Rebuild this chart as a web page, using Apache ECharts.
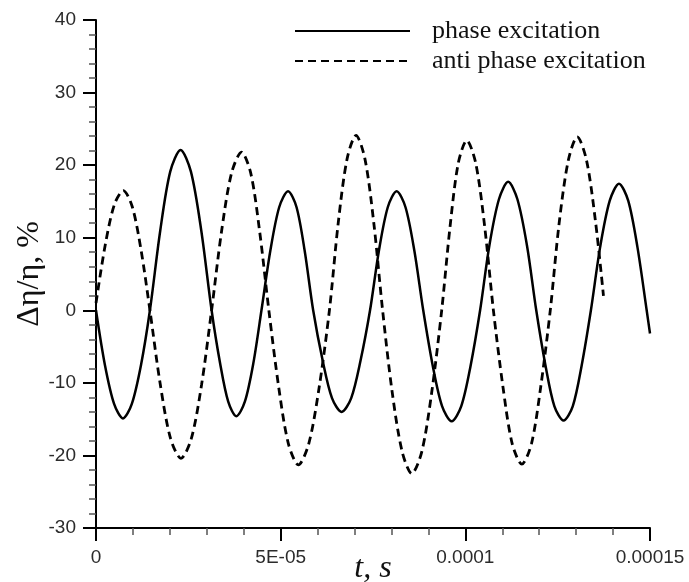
<!DOCTYPE html>
<html>
<head>
<meta charset="utf-8">
<script src="https://cdn.jsdelivr.net/npm/echarts@6/dist/echarts.min.js"></script>
<style>
	html, body { margin: 0; padding: 0; background: #fff; }
	#chart { width: 689px; height: 582px; }
</style>
</head>
<body>
<div id="chart"></div>
<script>
	/* time in units of 1E-05 s */
	var phaseT = [0, 0.24, 0.49, 0.73, 0.97, 1.22, 1.46,
		1.74, 2.01, 2.29, 2.57, 2.85, 3.13,
		3.36, 3.58, 3.80, 4.03, 4.26, 4.48,
		4.72, 4.96, 5.20, 5.43, 5.65, 5.88,
		6.14, 6.39, 6.65, 6.91, 7.16, 7.42,
		7.66, 7.90, 8.14, 8.38, 8.62, 8.86,
		9.12, 9.37, 9.63, 9.89, 10.14, 10.40,
		10.65, 10.91, 11.16, 11.41, 11.67, 11.92,
		12.17, 12.41, 12.66, 12.91, 13.15, 13.40,
		13.65, 13.91, 14.16, 14.41, 14.66, 14.91, 15.0];
	var phaseV = [0, -7.5, -12.9, -14.9, -12.9, -7.5, 0,
		11.0, 19.1, 22.1, 19.1, 11.0, 0,
		-7.3, -12.6, -14.6, -12.6, -7.3, 0,
		8.2, 14.2, 16.4, 14.2, 8.2, 0,
		-7.0, -12.1, -14.0, -12.1, -7.0, 0,
		8.2, 14.2, 16.4, 14.2, 8.2, 0,
		-7.7, -13.2, -15.3, -13.2, -7.7, 0,
		8.9, 15.3, 17.7, 15.3, 8.9, 0,
		-7.6, -13.2, -15.2, -13.2, -7.6, 0,
		8.7, 15.1, 17.45, 15.1, 8.7, 0, -3.2];

	var antiT = [0, 0.25, 0.50, 0.74, 0.98, 1.22, 1.46,
		1.74, 2.02, 2.30, 2.58, 2.86, 3.13,
		3.40, 3.67, 3.94, 4.19, 4.43, 4.68,
		4.95, 5.21, 5.48, 5.76, 6.04, 6.32,
		6.56, 6.80, 7.04, 7.28, 7.52, 7.76,
		8.02, 8.29, 8.55, 8.82, 9.09, 9.36,
		9.59, 9.81, 10.04, 10.28, 10.52, 10.76,
		11.02, 11.27, 11.53, 11.79, 12.04, 12.30,
		12.54, 12.79, 13.03, 13.28, 13.53, 13.74];
	var antiV = [1.0, 9.0, 14.6, 16.5, 14.3, 8.3, 0,
		-10.2, -17.7, -20.4, -17.7, -10.2, 0,
		10.9, 18.9, 21.8, 18.9, 10.9, 0,
		-10.7, -18.4, -21.3, -18.4, -10.7, 0,
		12.1, 20.9, 24.1, 20.9, 12.1, 0,
		-11.3, -19.5, -22.5, -19.5, -11.3, 0,
		11.7, 20.3, 23.4, 20.3, 11.7, 0,
		-10.6, -18.4, -21.2, -18.4, -10.6, 0,
		12.0, 20.7, 23.9, 20.7, 12.0, 2.0];

	var xTickLabels = ['0', '5E-05', '0.0001', '0.00015'];
	var seriesNames = ['phase excitation', 'anti phase excitation'];

	function pairs(t, v) {
		var out = [];
		for (var i = 0; i < t.length; i++) out.push([t[i], v[i]]);
		return out;
	}

	var chart = echarts.init(document.getElementById('chart'), null, { renderer: 'canvas' });
	var labelFont = { fontFamily: 'Liberation Sans', fontSize: 19, color: '#2b2b2b' };
	var option = {
		animation: false,
		backgroundColor: '#fff',
		grid: { left: 96, right: 39, top: 20, bottom: 54, outerBoundsMode: 'none', containLabel: false },
		legend: {
			orient: 'vertical',
			left: 289,
			top: 13,
			itemWidth: 115,
			itemHeight: 14,
			itemGap: 4,
			data: seriesNames,
			itemStyle: { color: 'transparent', borderColor: 'transparent', borderWidth: 0 },
			textStyle: {
				fontFamily: 'Liberation Serif',
				fontSize: 26,
				color: '#111',
				padding: [0, 0, 0, 17]
			}
		},
		xAxis: {
			type: 'value',
			min: 0,
			max: 15,
			interval: 5,
			name: 't, s',
			nameLocation: 'middle',
			nameGap: 25,
			nameMoveOverlap: false,
			nameTextStyle: { fontFamily: 'Liberation Serif', fontStyle: 'italic', fontSize: 32, color: '#111' },
			axisLine: { onZero: false, lineStyle: { color: '#000', width: 2 } },
			axisTick: { show: true, length: 13, lineStyle: { color: '#000', width: 2 } },
			minorTick: { show: true, splitNumber: 5, length: 7, lineStyle: { color: '#555', width: 1.5 } },
			axisLabel: {
				margin: 20,
				fontFamily: labelFont.fontFamily, fontSize: labelFont.fontSize, color: labelFont.color,
				formatter: function(v) { return xTickLabels[Math.round(v / 5)]; }
			},
			splitLine: { show: false }
		},
		yAxis: {
			type: 'value',
			min: -30,
			max: 40,
			interval: 10,
			name: 'Δη/η, %',
			nameLocation: 'middle',
			nameRotate: 90,
			nameGap: 50,
			nameMoveOverlap: false,
			nameTextStyle: { fontFamily: 'Liberation Serif', fontSize: 32, color: '#111' },
			axisLine: { onZero: false, lineStyle: { color: '#000', width: 2 } },
			axisTick: { show: true, length: 13, lineStyle: { color: '#000', width: 2 } },
			minorTick: { show: true, splitNumber: 5, length: 7, lineStyle: { color: '#555', width: 1.5 } },
			axisLabel: {
				margin: 20,
				fontFamily: labelFont.fontFamily, fontSize: labelFont.fontSize, color: labelFont.color
			},
			splitLine: { show: false }
		},
		series: [{
			name: seriesNames[0],
			type: 'line',
			data: pairs(phaseT, phaseV),
			smooth: 0.3,
			symbol: 'none',
			lineStyle: { color: '#000', width: 2.5, type: 'solid' },
			itemStyle: { color: '#000' }
		}, {
			name: seriesNames[1],
			type: 'line',
			data: pairs(antiT, antiV),
			smooth: 0.3,
			symbol: 'none',
			lineStyle: { color: '#000', width: 2.8, type: [8, 5] },
			itemStyle: { color: '#000' }
		}]
	};
	chart.setOption(option);
</script>
</body>
</html>
